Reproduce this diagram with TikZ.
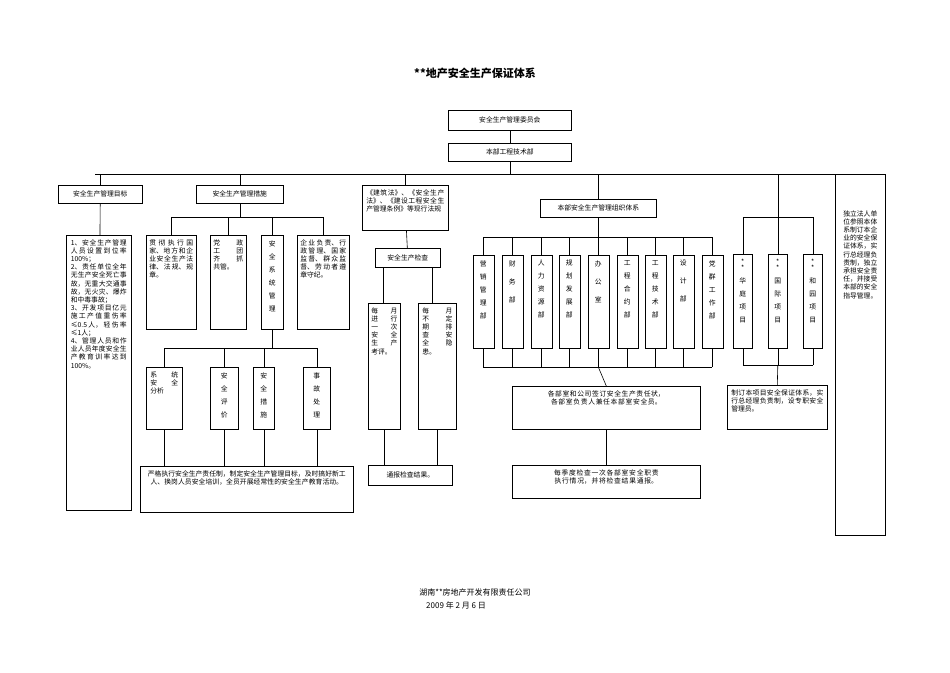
\documentclass[tikz,border=0pt]{standalone}
\usepackage{fontspec}
\setmainfont{Noto Sans CJK SC}
\XeTeXlinebreaklocale "zh"
\XeTeXlinebreakskip=0pt plus 0.3pt
\begin{document}
\begin{tikzpicture}[x=1pt,y=-1pt,line width=0.6pt,
  bx/.style={draw,inner sep=0pt},
  tx/.style={anchor=north,inner sep=0pt,font=\fontsize{6.8}{8.2}\selectfont},
  vt/.style={anchor=north,inner sep=0pt,align=center,font=\fontsize{6.8}{13}\selectfont}]
\useasboundingbox (0,0) rectangle (950,672);
\newcommand\mybox[8][justify]{%
  \node[bx,anchor=north west,minimum width={((#5)-(#3))*1pt},minimum height={((#6)-(#4))*1pt}] (#2) at (#3,#4) {};
  \node[tx,text width=#7pt,align=#1] at ([yshift=-4pt]#2.north) {#8};}
\newcommand\vtbox[6]{%
  \node[bx,anchor=north west,minimum width={((#4)-(#2))*1pt},minimum height={((#5)-(#3))*1pt}] (#1) at (#2,#3) {};
  \node[vt] at ([yshift=-5pt]#1.north) {#6};}
\newcommand\lbox[6]{%
  \node[bx,anchor=north west,minimum width={((#4)-(#2))*1pt},minimum height={((#5)-(#3))*1pt},font=\fontsize{6.8}{8}\selectfont] (#1) at (#2,#3) {#6};}

\node[font=\bfseries\fontsize{11}{13}\selectfont] (title) at (475,73) {**地产安全生产保证体系};

\lbox{wyh}{448}{110}{571}{130}{安全生产管理委员会}
\lbox{gcb}{448}{143}{571}{161}{本部工程技术部}
\draw (wyh) -- (gcb);
\coordinate (bus) at (0,174);
\draw (gcb.south) -- (gcb.south|-bus);
\draw (95,174) -- (857,174);

% target column
\lbox{mb}{58}{185}{142}{203}{安全生产管理目标}
\mybox{mbt}{66}{235}{131}{510}{56}{1、安全生产管理人员设置到位率100\%；\\ 2、责任单位全年无生产安全死亡事故，无重大交通事故，无火灾、爆炸和中毒事故；\\ 3、开发项目亿元施工产值重伤率≤0.5人，轻伤率≤1人；\\ 4、管理人员和作业人员年度安全生产教育训率达到100\%。}
\draw (mb.north|-bus) -- (mb.north);
\draw (mb) -- (mbt);

% measures column
\lbox{cs}{196}{185}{283}{203}{安全生产管理措施}
\draw (cs.north|-bus) -- (cs.north);
\mybox{c1}{146}{235}{196}{329}{44}{贯彻执行国家、地方和企业安全生产法律、法规、规章。}
\mybox{c2}{210}{235}{246}{329}{30}{党\hfill 政\\ 工\hfill 团\\ 齐\hfill 抓\\ 共管。}
\vtbox{c3}{261}{235}{283}{329}{安\\全\\系\\统\\管\\理}
\mybox{c4}{297}{235}{349}{329}{46}{企业负责、行政管理、国家监督、群众监督、劳动者遵章守纪。}
\coordinate (b1) at (0,217);
\draw (cs.south) -- (cs.south|-b1);
\draw (c1.north|-b1) -- (c4.north|-b1);
\foreach \n in {c1,c2,c3,c4} \draw (\n.north|-b1) -- (\n.north);
\mybox{d1}{146}{367}{182}{429}{28}{系\hfill 统\\ 安\hfill 全\\ 分析}
\vtbox{d2}{210}{367}{238}{429}{安\\全\\评\\价}
\vtbox{d3}{253}{367}{274}{429}{安\\全\\措\\施}
\vtbox{d4}{303}{367}{330}{429}{事\\故\\处\\理}
\coordinate (b2) at (0,348);
\draw (c3.south) -- (c3.south|-b2);
\draw (d1.north|-b2) -- (d4.north|-b2);
\foreach \n in {d1,d2,d3,d4} \draw (\n.north|-b2) -- (\n.north);
\mybox[center]{ed}{140}{466}{353}{512}{200}{严格执行安全生产责任制，制定安全生产管理目标，及时搞好新工人、换岗人员安全培训，全员开展经常性的安全生产教育活动。}
\foreach \n in {d1,d2,d3,d4} \draw (\n.south) -- (\n.south|-ed.north);

% laws column
\mybox{law}{362}{185}{448}{230}{78}{《建筑法》、《安全生产法》、《建设工程安全生产管理条例》等现行法规}
\draw (law.north|-bus) -- (law.north);
\lbox{jc}{375}{248}{440}{267}{安全生产检查}
\draw (law) -- (jc);
\mybox{j1}{368}{303}{400}{429}{26}{每\hfill 月\\ 进\hfill 行\\ 一\hfill 次\\ 安\hfill 全\\ 生\hfill 产\\ 考评。}
\mybox{j2}{418}{303}{456}{429}{30}{每\hfill 月\\ 不\hfill 定\\ 期\hfill 排\\ 查\hfill 安\\ 全\hfill 隐\\ 患。}
\draw ([xshift=-24.5pt]jc.south) -- ([xshift=-24.5pt]jc.south|-j1.north);
\draw ([xshift=24.5pt]jc.south) -- ([xshift=24.5pt]jc.south|-j2.north);
\lbox{tb}{368}{465}{452}{485}{通报检查结果。}
\draw (j1.south) -- (j1.south|-tb.north);
\draw (j2.south) -- (j2.south|-tb.north);

% org column
\lbox{org}{540}{199}{656}{217}{本部安全生产管理组织体系}
\draw (org.north|-bus) -- (org.north);
\coordinate (b3) at (0,237);
\coordinate (b4) at (0,367);
\foreach \i/\x/\t in {1/483/营\\销\\管\\理\\部,2/512/财\\[5pt]务\\[5pt]部,3/541/人\\力\\资\\源\\部,4/569/规\\划\\发\\展\\部,5/598/办\\[5pt]公\\[5pt]室,6/627/工\\程\\合\\约\\部,7/655/工\\程\\技\\术\\部,8/683/设\\[5pt]计\\[5pt]部,9/712/党\\群\\工\\作\\部}{
  \vtbox{o\i}{\x-10.5}{255}{\x+10.5}{348}{\t}
  \draw (o\i.north|-b3) -- (o\i.north);
  \draw (o\i.south) -- (o\i.south|-b4);
}
\draw (o1.north|-b3) -- (o9.north|-b3);
\draw (o1.south|-b4) -- (o9.south|-b4);
\draw (org.south) -- (org.south|-b3);
\mybox[center]{zr}{512}{386}{700}{429}{170}{各部室和公司签订安全生产责任状，各部室负责人兼任本部室安全员。}
\draw (o5.south|-b4) -- (zr.north);
\mybox[center]{jd}{512}{465}{700}{498}{170}{每季度检查一次各部室安全职责执行情况，并将检查结果通报。}
\draw (zr) -- (jd);

% projects column
\coordinate (b5) at (0,217);
\coordinate (b6) at (0,365);
\vtbox{p1}{733}{254}{752}{348}{*\\[-7pt]*\\华\\庭\\项\\目}
\vtbox{p2}{768}{254}{787}{348}{*\\[-7pt]*\\国\\际\\项\\目}
\vtbox{p3}{803}{254}{822}{348}{*\\[-7pt]*\\和\\园\\项\\目}
\draw (p2.north|-bus) -- (p2.north|-b5);
\draw (p1.north|-b5) -- (p3.north|-b5);
\draw (p1.south|-b6) -- (p3.south|-b6);
\foreach \n in {p1,p2,p3} {\draw (\n.north|-b5) -- (\n.north); \draw (\n.south) -- (\n.south|-b6);}
\mybox{pz}{727}{385}{827}{429}{92}{制订本项目安全保证体系，实行总经理负责制，设专职安全管理员。}
\draw (p2.south|-b6) -- (pz.north);

% right column
\node[bx,anchor=north west,minimum width=50pt,minimum height=361pt] (rt) at (835,174) {};
\node[tx,text width=36pt,align=center] (rtt) at ([yshift=-36pt]rt.north) {独立法人单位参照本体系制订本企业的安全保证体系，实行总经理负责制，独立承担安全责任，并接受本部的安全指导管理。};

% footer
\node[font=\fontsize{8}{10}\selectfont] (ft1) at (475,592) {湖南**房地产开发有限责任公司};
\node[font=\fontsize{8}{10}\selectfont] (ft2) at (456,605) {2009 年 2 月 6 日};
\end{tikzpicture}
\end{document}
